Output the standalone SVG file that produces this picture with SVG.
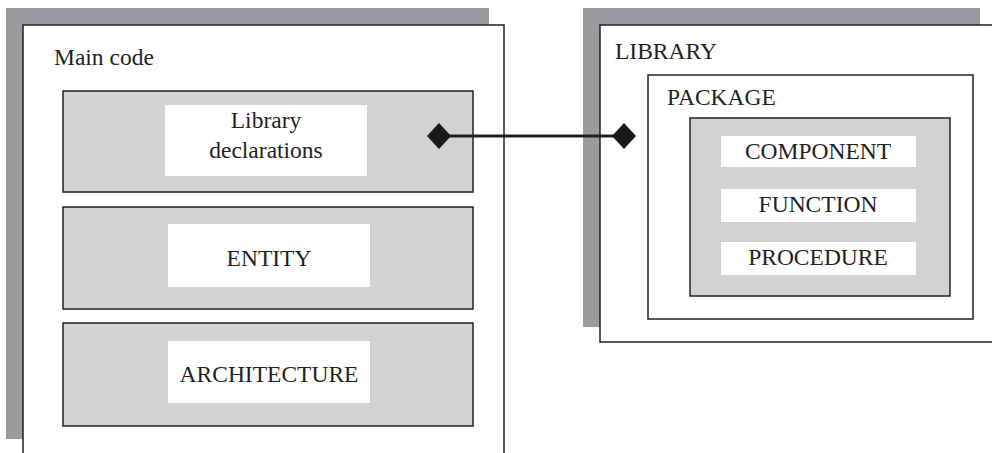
<svg xmlns="http://www.w3.org/2000/svg" width="992" height="453" viewBox="0 0 992 453">
<style>
.shadow{fill:#9a9b9f;stroke:none}
.box{fill:#fff;stroke:#231f20;stroke-width:1.5}
.panel{fill:#d1d2d4;stroke:#231f20;stroke-width:1.5}
.label{fill:#fff;stroke:none}
text{font-family:"Liberation Serif","Times New Roman",serif;fill:#231f20;font-size:23.5px}
.c{text-anchor:middle}
</style>
<defs>
<path id="dia" d="M0,-13 L12,0 L0,13 L-12,0 Z" fill="#1a1718"/>
</defs>
<g id="main-code">
<rect class="shadow" x="6" y="8" width="483" height="431"/>
<rect class="box" x="23" y="25" width="481" height="440"/>
<text x="54" y="65" font-size="25.5">Main code</text>
</g>
<g id="library-declarations">
<rect class="panel" x="63" y="91" width="410" height="101"/>
<rect class="label" x="165" y="105" width="202" height="71"/>
<text class="c" x="266" y="128" font-size="25">Library</text>
<text class="c" x="266" y="158" font-size="23">declarations</text>
</g>
<g id="entity">
<rect class="panel" x="63" y="207" width="410" height="102"/>
<rect class="label" x="168" y="224" width="202" height="63"/>
<text class="c" x="269" y="266">ENTITY</text>
</g>
<g id="architecture">
<rect class="panel" x="63" y="323" width="410" height="103"/>
<rect class="label" x="168" y="341" width="202" height="62"/>
<text class="c" x="269" y="382">ARCHITECTURE</text>
</g>
<g id="library">
<rect class="shadow" x="583" y="8" width="397" height="319"/>
<rect class="box" x="600" y="25" width="400" height="317"/>
<text x="615" y="59">LIBRARY</text>
</g>
<g id="package">
<rect class="box" x="648" y="75" width="325" height="244"/>
<text x="667" y="105">PACKAGE</text>
<rect class="panel" x="690" y="118" width="260" height="178"/>
</g>
<g id="component">
<rect class="label" x="721" y="136" width="195" height="31"/>
<text class="c" x="818" y="159">COMPONENT</text>
</g>
<g id="function">
<rect class="label" x="721" y="189" width="195" height="33"/>
<text class="c" x="818" y="212">FUNCTION</text>
</g>
<g id="procedure">
<rect class="label" x="721" y="242" width="195" height="33"/>
<text class="c" x="818" y="265">PROCEDURE</text>
</g>
<g id="connectors">
<line x1="439" y1="136" x2="624" y2="136" stroke="#231f20" stroke-width="3"/>
<use href="#dia" x="439" y="136"/>
<use href="#dia" x="624" y="136"/>
</g>
</svg>
